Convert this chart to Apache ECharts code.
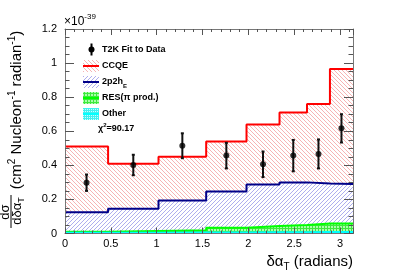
<!DOCTYPE html>
<html><head><meta charset="utf-8">
<script src="https://cdn.jsdelivr.net/npm/echarts@6/dist/echarts.min.js"></script>
<style>html,body{margin:0;padding:0;background:#fff}#c{width:407px;height:275px}</style>
</head><body><div id="c"></div>
<script>
// ---- data ----
const binEdges = [0, 0.47, 1.02, 1.54, 1.98, 2.34, 2.64, 2.89, 3.1416];
// stacked tops (cumulative): total (CCQE on top), 2p2h, RES, Other
const ccqeTop   = [0.51, 0.41, 0.45, 0.54, 0.64, 0.71, 0.76, 0.965];
const twoP2hTop = [0.125, 0.145, 0.194, 0.247, 0.288, 0.30, 0.293, 0.29];
const resTop    = [0.011, 0.015, 0.019, 0.034, 0.044, 0.05, 0.058, 0.058];
const otherTop  = [0.005, 0.005, 0.006, 0.006, 0.007, 0.008, 0.009, 0.009];
const dataY     = [0.298, 0.402, 0.515, 0.457, 0.406, 0.457, 0.467, 0.617];
const dataErr   = [0.048, 0.060, 0.073, 0.075, 0.075, 0.092, 0.085, 0.083];
const chi2Text  = 'χ{sup|2}=90.17';

const FONT = 'Liberation Sans, Arial, Helvetica, sans-serif';

function stepData(vals) {
  const d = vals.map((v, i) => [binEdges[i], v]);
  d.push([binEdges[vals.length], vals[vals.length - 1]]);
  return d;
}
const centers = dataY.map((_, i) => (binEdges[i] + binEdges[i + 1]) / 2);

// pixel-exact diagonal hatch tile
function hatch(dir, color, s) {
  const c = document.createElement('canvas');
  c.width = c.height = s;
  const g = c.getContext('2d');
  g.fillStyle = '#fff'; g.fillRect(0, 0, s, s);
  g.fillStyle = color;
  for (let i = 0; i < s; i++) {
    const x = dir === 'back' ? i : s - 1 - i;
    g.fillRect(x, i, 1, 1);
  }
  return c;
}
function grid(bg, fg, s) {
  const c = document.createElement('canvas');
  c.width = c.height = s;
  const g = c.getContext('2d');
  g.fillStyle = bg; g.fillRect(0, 0, s, s);
  g.fillStyle = fg; g.fillRect(0, 0, s, 1); g.fillRect(0, 0, 1, s);
  return c;
}
const redPat = hatch('back', '#f6b4b4', 4);
const bluePat = hatch('fwd', '#aeaeee', 4);
const greenPat = grid('#a8ffa8', '#3ee83e', 3);
const cyanPat = grid('#c8ffff', '#40f0f0', 2);

function stepSeries(name, vals, lineColor, pat) {
  return {
    name, type: 'line', step: 'end', data: stepData(vals), symbol: 'none',
    lineStyle: { color: lineColor, width: 2 },
    areaStyle: { color: { image: pat, repeat: 'repeat' }, opacity: 1, origin: 'start' },
    silent: true, animation: false, clip: true
  };
}

const axisCommonX = {
  type: 'value', min: 0, max: Math.PI, interval: 0.5,
  axisLine: { onZero: false, lineStyle: { color: '#777', width: 1 } },
  axisTick: { inside: true, length: 6, lineStyle: { color: '#555' } },
  minorTick: { show: true, splitNumber: 5, length: 3, lineStyle: { color: '#555' } },
  splitLine: { show: false }, minorSplitLine: { show: false }, z: 10
};
const axisCommonY = {
  type: 'value', min: 0, max: 1.2, interval: 0.2,
  axisLine: { onZero: false, lineStyle: { color: '#777', width: 1 } },
  axisTick: { inside: true, length: 9, lineStyle: { color: '#555' } },
  minorTick: { show: true, splitNumber: 4, length: 4.5, lineStyle: { color: '#555' } },
  splitLine: { show: false }, minorSplitLine: { show: false }, z: 10
};

const legendX = 83, legendW = 16;
function legendBox(y, pat, lineColor) {
  return [
    { type: 'rect', shape: { x: legendX, y: y - 6, width: legendW, height: 12 },
      style: { fill: { image: pat, repeat: 'repeat' } } },
    { type: 'line', shape: { x1: legendX, y1: y, x2: legendX + legendW, y2: y },
      style: { stroke: lineColor, lineWidth: 2 } }
  ];
}
function legendText(x, y, text, rich) {
  return { type: 'text', x, y, style: { text, fill: '#000', font: 'bold 9px ' + FONT,
    textAlign: 'left', textVerticalAlign: 'middle', rich: rich || {} } };
}
const subRich = { sub: { fontSize: 6, fontWeight: 'bold', fontFamily: FONT, verticalAlign: 'bottom', lineHeight: 14 } };
const supRich = { sup: { fontSize: 6, fontWeight: 'bold', fontFamily: FONT, verticalAlign: 'top', lineHeight: 14 } };

const graphics = [
  // x10^-39
  { type: 'text', x: 64, y: 22, style: { text: '×10{s|-39}', fill: '#000', font: '12px ' + FONT,
      textAlign: 'left', textVerticalAlign: 'middle',
      rich: { s: { fontSize: 8, fontFamily: FONT, verticalAlign: 'top', lineHeight: 18 } } } },
  // y title
  { type: 'text', x: 16.5, y: 110, rotation: Math.PI / 2,
    style: { text: '(cm{s|2} Nucleon{s|-1} radian{s|-1})', fill: '#000', font: '15px ' + FONT,
      textAlign: 'center', textVerticalAlign: 'middle',
      rich: { s: { fontSize: 10, fontFamily: FONT, verticalAlign: 'top', lineHeight: 19 } } } },
  { type: 'text', x: 5, y: 212, rotation: Math.PI / 2,
    style: { text: 'dσ', fill: '#000', font: '13px ' + FONT, textAlign: 'center', textVerticalAlign: 'middle' } },
  { type: 'line', shape: { x1: 11, y1: 195, x2: 11, y2: 228 }, style: { stroke: '#000', lineWidth: 1 } },
  { type: 'text', x: 17, y: 211, rotation: Math.PI / 2,
    style: { text: 'dδα{s|T}', fill: '#000', font: '13px ' + FONT, textAlign: 'center', textVerticalAlign: 'middle',
      rich: { s: { fontSize: 9, fontFamily: FONT, verticalAlign: 'bottom', lineHeight: 19 } } } },
  // x title
  { type: 'text', x: 353, y: 262, style: { text: 'δα{s|T} (radians)', fill: '#000', font: '15px ' + FONT,
      textAlign: 'right', textVerticalAlign: 'middle',
      rich: { s: { fontSize: 10, fontFamily: FONT, verticalAlign: 'bottom', lineHeight: 20 } } } },
  // legend: data marker
  { type: 'line', shape: { x1: 91.5, y1: 43.5, x2: 91.5, y2: 55.5 }, style: { stroke: '#000', lineWidth: 2 } },
  { type: 'circle', shape: { cx: 91.5, cy: 49.5, r: 3 }, style: { fill: '#000' } },
  legendText(102, 50, 'T2K Fit to Data'),
  ...legendBox(66, redPat, '#ff0000'), legendText(102, 66, 'CCQE'),
  ...legendBox(82, bluePat, '#000088'), legendText(102, 82, '2p2h{sub|E}', subRich),
  ...legendBox(98, greenPat, '#00ff00'), legendText(102, 98, 'RES(π prod.)'),
  ...legendBox(114, cyanPat, '#00ffff'), legendText(102, 114, 'Other'),
  legendText(98, 129, chi2Text, supRich)
];

const chart = echarts.init(document.getElementById('c'), null, { renderer: 'canvas' });
chart.setOption({
  animation: false,
  backgroundColor: '#fff',
  grid: { left: 65, right: 54, top: 29, bottom: 41.5, containLabel: false },
  xAxis: [
    Object.assign({}, axisCommonX, { position: 'bottom',
      axisLabel: { showMaxLabel: false, color: '#000', fontSize: 11, fontFamily: FONT, margin: 5 } }),
    Object.assign({}, axisCommonX, { position: 'top', axisLabel: { show: false } })
  ],
  yAxis: [
    Object.assign({}, axisCommonY, { position: 'left',
      axisLabel: { color: '#000', fontSize: 11, fontFamily: FONT, margin: 8 } }),
    Object.assign({}, axisCommonY, { position: 'right', axisLabel: { show: false } })
  ],
  series: [
    stepSeries('CCQE', ccqeTop, '#ff0000', redPat),
    stepSeries('2p2h', twoP2hTop, '#000088', bluePat),
    stepSeries('RES', resTop, '#00ff00', greenPat),
    stepSeries('Other', otherTop, '#00ffff', cyanPat),
    {
      type: 'custom', name: 'err', silent: true,
      data: centers.map((x, i) => [x, dataY[i] - dataErr[i], dataY[i] + dataErr[i]]),
      renderItem: function (params, api) {
        const x = api.value(0);
        const p1 = api.coord([x, api.value(1)]);
        const p2 = api.coord([x, api.value(2)]);
        const st = { stroke: '#111', lineWidth: 2 };
        return { type: 'group', children: [
          { type: 'line', shape: { x1: p1[0], y1: p1[1], x2: p2[0], y2: p2[1] }, style: st },
          { type: 'line', shape: { x1: p1[0] - 1.5, y1: p1[1], x2: p1[0] + 1.5, y2: p1[1] }, style: st },
          { type: 'line', shape: { x1: p2[0] - 1.5, y1: p2[1], x2: p2[0] + 1.5, y2: p2[1] }, style: st }
        ] };
      },
      z: 5
    },
    {
      type: 'scatter', name: 'T2K Fit to Data', silent: true,
      data: centers.map((x, i) => [x, dataY[i]]),
      symbol: 'circle', symbolSize: 6, itemStyle: { color: '#000' }, z: 6
    }
  ],
  graphic: graphics
});
</script></body></html>
